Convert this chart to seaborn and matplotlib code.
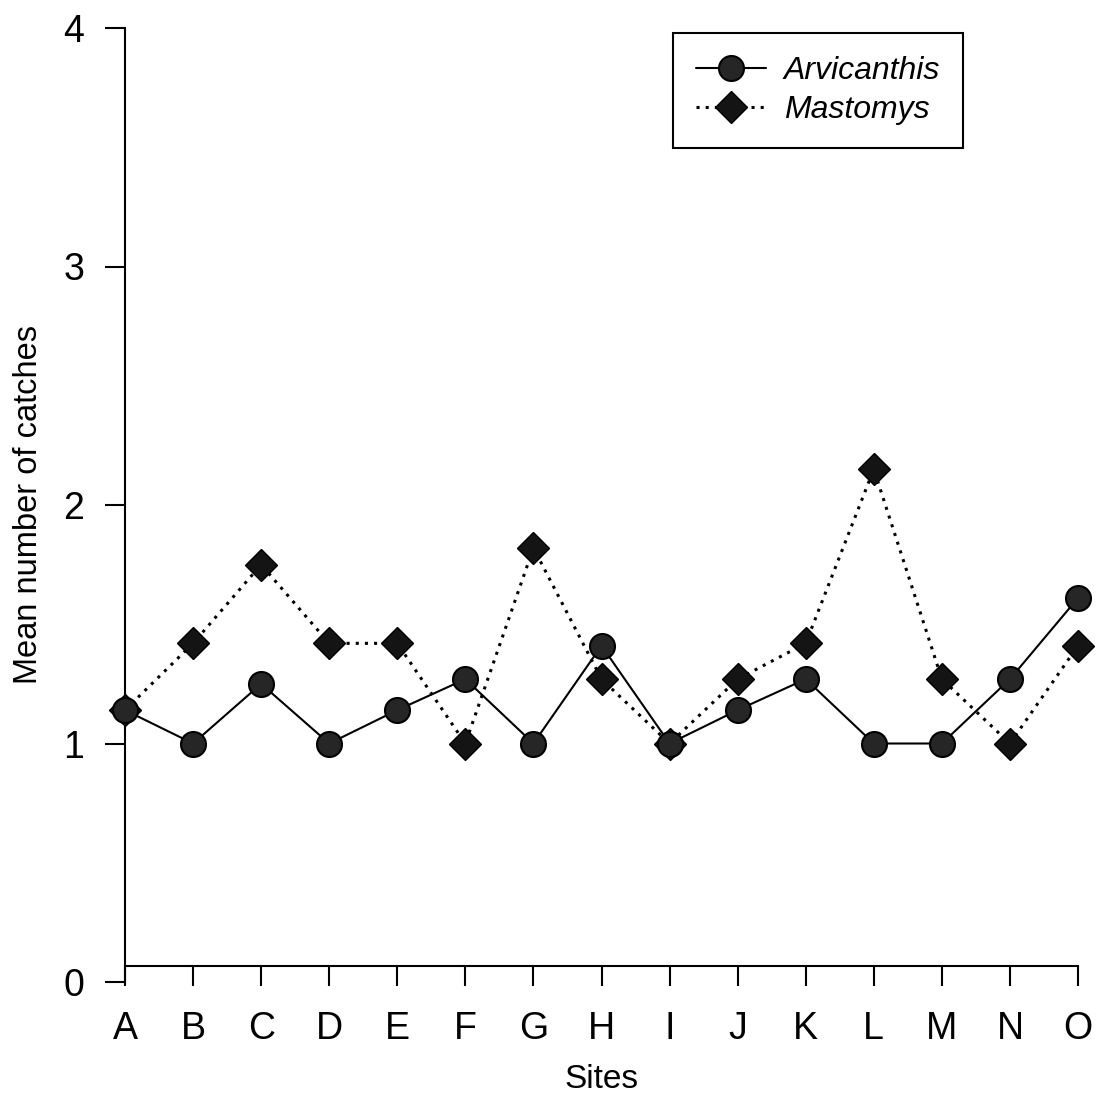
import matplotlib
matplotlib.use("Agg")
import matplotlib.pyplot as plt
import seaborn as sns
import pandas as pd

sites = list("ABCDEFGHIJKLMNO")
arvicanthis = [1.14, 1.0, 1.25, 1.0, 1.14, 1.27, 1.0, 1.41, 1.0, 1.14, 1.27, 1.0, 1.0, 1.27, 1.61]
mastomys = [1.14, 1.42, 1.75, 1.42, 1.42, 1.0, 1.82, 1.27, 1.0, 1.27, 1.42, 2.15, 1.27, 1.0, 1.41]
y_ticks = [0, 1, 2, 3, 4]

sns.set_style("ticks")
plt.rcParams['font.family'] = ['Liberation Sans', 'DejaVu Sans']
plt.rcParams['text.color'] = 'black'
plt.rcParams['axes.labelcolor'] = 'black'

W, H = 1099, 1098
fig = plt.figure(figsize=(W / 100, H / 100), dpi=100)
ax = fig.add_axes([125 / W, (H - 982) / H, (1078 - 125) / W, (982 - 28) / H])

df_a = pd.DataFrame({"pos": range(len(sites)), "val": arvicanthis})
df_m = pd.DataFrame({"pos": range(len(sites)), "val": mastomys})

sns.lineplot(data=df_m, x="pos", y="val", ax=ax, color="black", lw=2.2,
             linestyle=(0, (1, 2)), marker="D", markersize=16,
             markerfacecolor="#141414", markeredgecolor="black", markeredgewidth=1,
             label="Mastomys", clip_on=False, zorder=3)
sns.lineplot(data=df_a, x="pos", y="val", ax=ax, color="black", lw=1.5,
             marker="o", markersize=18,
             markerfacecolor="#262626", markeredgecolor="black", markeredgewidth=1.5,
             label="Arvicanthis", clip_on=False, zorder=4)

ax.set_xlim(0, len(sites) - 1)
ax.set_ylim(0, 4)
ax.set_xticks(range(len(sites)))
ax.set_xticklabels(sites)
ax.set_yticks(y_ticks)
ax.set_yticklabels([str(t) for t in y_ticks])

ax.spines['top'].set_visible(False)
ax.spines['right'].set_visible(False)
ax.spines['bottom'].set_position(('data', 0.067))
for s in ('left', 'bottom'):
    ax.spines[s].set_linewidth(1.5)
    ax.spines[s].set_color('black')

ax.tick_params(axis='both', direction='out', length=14.5, width=1.5, color='black',
               labelsize=27, labelcolor='black')
ax.tick_params(axis='x', pad=18)
ax.tick_params(axis='y', pad=15)

ax.set_xlabel("Sites", fontsize=24, labelpad=12, color='black')
ax.set_ylabel("Mean number of catches", fontsize=23.5, labelpad=14, color='black')

handles, labels = ax.get_legend_handles_labels()
order = [labels.index("Arvicanthis"), labels.index("Mastomys")]
leg = ax.legend([handles[i] for i in order], [labels[i] for i in order],
                loc="upper right", bbox_to_anchor=(963 / W, 1 - 33 / H),
                bbox_transform=fig.transFigure, borderaxespad=0,
                frameon=True, fancybox=False, handlelength=2.2,
                prop={'style': 'italic', 'size': 23}, borderpad=0.72,
                labelspacing=0.28, handletextpad=0.55)
for t in leg.get_texts():
    t.set_color('black')
leg.get_frame().set_edgecolor('black')
leg.get_frame().set_linewidth(1.5)
leg.get_frame().set_alpha(1)

fig.savefig("out.png", dpi=100)
